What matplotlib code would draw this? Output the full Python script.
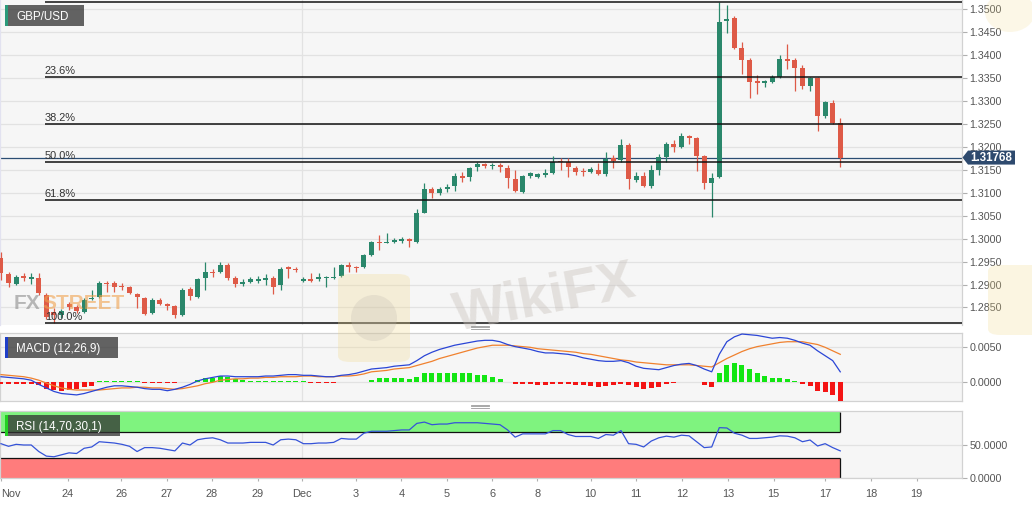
import matplotlib
matplotlib.use("Agg")
import matplotlib.pyplot as plt
import numpy as np
from matplotlib.patches import Rectangle, Polygon, FancyBboxPatch, Ellipse
from matplotlib.lines import Line2D

plt.rcParams['font.family'] = ['Liberation Sans', 'DejaVu Sans']

# ---------------- data ----------------
opens = [1.2958, 1.2923, 1.2901, 1.2919, 1.2912, 1.2914, 1.2877, 1.2840, 1.2834, 1.2858,
         1.2851, 1.2840, 1.2869, 1.2873, 1.2903, 1.2903, 1.2897, 1.2895, 1.2879, 1.2871,
         1.2838, 1.2866, 1.2858, 1.2853, 1.2834, 1.2890, 1.2873, 1.2914, 1.2928, 1.2928,
         1.2943, 1.2914, 1.2901, 1.2906, 1.2908, 1.2910, 1.2914, 1.2899, 1.2938, 1.2934,
         1.2908, 1.2912, 1.2912, 1.2914, 1.2914, 1.2919, 1.2943, 1.2938, 1.2938, 1.2964,
         1.2992, 1.2990, 1.2992, 1.2995, 1.2999, 1.2992, 1.3056, 1.3108, 1.3100, 1.3108,
         1.3115, 1.3137, 1.3135, 1.3156, 1.3163, 1.3158, 1.3161, 1.3154, 1.3130, 1.3102,
         1.3137, 1.3135, 1.3139, 1.3143, 1.3169, 1.3167, 1.3154, 1.3148, 1.3145, 1.3150,
         1.3141, 1.3176, 1.3172, 1.3204, 1.3128, 1.3137, 1.3115, 1.3150, 1.3178, 1.3206,
         1.3200, 1.3224, 1.3219, 1.3180, 1.3121, 1.3135, 1.3474, 1.3481, 1.3416, 1.3389,
         1.3344, 1.3339, 1.3341, 1.3352, 1.3392, 1.3389, 1.3372, 1.3333, 1.3350, 1.3267,
         1.3296, 1.3252]
highs = [1.2971, 1.2928, 1.2921, 1.2925, 1.2925, 1.2925, 1.2882, 1.2849, 1.2847, 1.2862,
         1.2855, 1.2871, 1.2888, 1.2908, 1.2908, 1.2908, 1.2903, 1.2897, 1.2882, 1.2873,
         1.2871, 1.2871, 1.2860, 1.2855, 1.2892, 1.2895, 1.2914, 1.2949, 1.2934, 1.2949,
         1.2947, 1.2919, 1.2912, 1.2917, 1.2919, 1.2923, 1.2919, 1.2938, 1.2941, 1.2938,
         1.2917, 1.2925, 1.2925, 1.2919, 1.2938, 1.2945, 1.2949, 1.2941, 1.2966, 1.2995,
         1.3008, 1.3012, 1.3001, 1.3003, 1.3001, 1.3065, 1.3121, 1.3113, 1.3113, 1.3119,
         1.3143, 1.3145, 1.3156, 1.3167, 1.3165, 1.3165, 1.3165, 1.3161, 1.3150, 1.3139,
         1.3145, 1.3143, 1.3152, 1.3180, 1.3176, 1.3176, 1.3158, 1.3154, 1.3156, 1.3165,
         1.3189, 1.3182, 1.3217, 1.3209, 1.3145, 1.3145, 1.3161, 1.3185, 1.3211, 1.3215,
         1.3230, 1.3226, 1.3222, 1.3182, 1.3143, 1.3517, 1.3509, 1.3485, 1.3429, 1.3394,
         1.3357, 1.3346, 1.3357, 1.3400, 1.3424, 1.3394, 1.3379, 1.3352, 1.3352, 1.3300,
         1.3302, 1.3263]
lows = [1.2910, 1.2895, 1.2899, 1.2908, 1.2901, 1.2877, 1.2825, 1.2817, 1.2827, 1.2845,
        1.2838, 1.2838, 1.2866, 1.2871, 1.2884, 1.2884, 1.2888, 1.2879, 1.2849, 1.2834,
        1.2836, 1.2855, 1.2845, 1.2827, 1.2831, 1.2866, 1.2871, 1.2888, 1.2917, 1.2925,
        1.2910, 1.2895, 1.2897, 1.2903, 1.2903, 1.2899, 1.2879, 1.2888, 1.2914, 1.2928,
        1.2906, 1.2906, 1.2908, 1.2895, 1.2912, 1.2917, 1.2928, 1.2928, 1.2936, 1.2962,
        1.2975, 1.2990, 1.2990, 1.2990, 1.2982, 1.2990, 1.3056, 1.3089, 1.3095, 1.3102,
        1.3104, 1.3124, 1.3126, 1.3148, 1.3154, 1.3152, 1.3145, 1.3110, 1.3102, 1.3100,
        1.3132, 1.3132, 1.3135, 1.3141, 1.3150, 1.3135, 1.3139, 1.3137, 1.3143, 1.3139,
        1.3137, 1.3154, 1.3167, 1.3108, 1.3124, 1.3113, 1.3110, 1.3139, 1.3167, 1.3189,
        1.3198, 1.3206, 1.3148, 1.3108, 1.3047, 1.3132, 1.3448, 1.3413, 1.3359, 1.3307,
        1.3315, 1.3331, 1.3339, 1.3350, 1.3370, 1.3322, 1.3326, 1.3322, 1.3235, 1.3263,
        1.3250, 1.3156]
closes = [1.2925, 1.2903, 1.2917, 1.2914, 1.2917, 1.2882, 1.2829, 1.2834, 1.2842, 1.2851,
          1.2842, 1.2866, 1.2871, 1.2903, 1.2901, 1.2895, 1.2895, 1.2882, 1.2873, 1.2836,
          1.2866, 1.2858, 1.2853, 1.2834, 1.2888, 1.2875, 1.2912, 1.2928, 1.2925, 1.2943,
          1.2914, 1.2901, 1.2906, 1.2912, 1.2912, 1.2914, 1.2895, 1.2934, 1.2934, 1.2932,
          1.2912, 1.2908, 1.2917, 1.2917, 1.2917, 1.2943, 1.2938, 1.2936, 1.2964, 1.2992,
          1.2990, 1.2992, 1.2997, 1.2999, 1.2995, 1.3056, 1.3108, 1.3100, 1.3108, 1.3113,
          1.3137, 1.3132, 1.3154, 1.3163, 1.3158, 1.3161, 1.3156, 1.3132, 1.3104, 1.3137,
          1.3143, 1.3141, 1.3143, 1.3167, 1.3167, 1.3156, 1.3145, 1.3145, 1.3152, 1.3141,
          1.3174, 1.3169, 1.3204, 1.3130, 1.3137, 1.3115, 1.3150, 1.3178, 1.3206, 1.3200,
          1.3224, 1.3219, 1.3180, 1.3121, 1.3132, 1.3472, 1.3479, 1.3416, 1.3389, 1.3341,
          1.3339, 1.3344, 1.3352, 1.3392, 1.3387, 1.3372, 1.3333, 1.3350, 1.3267, 1.3298,
          1.3252, 1.31768]

macd_line = [0.0008, 0.0007, 0.0006, 0.0005, 0.0003, -0.0003, -0.0008, -0.0013, -0.0016, -0.0017,
             -0.0018, -0.0016, -0.0013, -0.0010, -0.0007, -0.0005, -0.0005, -0.0006, -0.0007, -0.0009,
             -0.0010, -0.0010, -0.0012, -0.0010, -0.0007, -0.0003, 0.0002, 0.0005, 0.0007, 0.0009,
             0.0009, 0.0008, 0.0008, 0.0008, 0.0008, 0.0009, 0.0009, 0.0010, 0.0011, 0.0011,
             0.0010, 0.0010, 0.0009, 0.0008, 0.0008, 0.0010, 0.0011, 0.0013, 0.0016, 0.0019,
             0.0020, 0.0021, 0.0023, 0.0024, 0.0025, 0.0031, 0.0038, 0.0043, 0.0047, 0.0050,
             0.0053, 0.0055, 0.0057, 0.0059, 0.0060, 0.0060, 0.0058, 0.0054, 0.0051, 0.0049,
             0.0047, 0.0044, 0.0042, 0.0042, 0.0041, 0.0040, 0.0038, 0.0035, 0.0033, 0.0031,
             0.0030, 0.0030, 0.0031, 0.0028, 0.0023, 0.0020, 0.0019, 0.0018, 0.0021, 0.0024,
             0.0026, 0.0027, 0.0024, 0.0019, 0.0015, 0.0040, 0.0058, 0.0065, 0.0069, 0.0068,
             0.0067, 0.0065, 0.0063, 0.0064, 0.0063, 0.0060, 0.0056, 0.0053, 0.0045, 0.0038,
             0.0031, 0.0015]
signal_line = [0.0011, 0.0010, 0.0009, 0.0008, 0.0006, 0.0003, -0.0001, -0.0005, -0.0008, -0.0010,
               -0.0011, -0.0011, -0.0011, -0.0011, -0.0010, -0.0009, -0.0008, -0.0008, -0.0007, -0.0007,
               -0.0008, -0.0008, -0.0009, -0.0010, -0.0009, -0.0007, -0.0005, -0.0002, 0.0000, 0.0003,
               0.0004, 0.0005, 0.0005, 0.0006, 0.0006, 0.0007, 0.0007, 0.0008, 0.0008, 0.0008,
               0.0009, 0.0009, 0.0008, 0.0008, 0.0008, 0.0009, 0.0009, 0.0010, 0.0012, 0.0015,
               0.0016, 0.0017, 0.0019, 0.0020, 0.0021, 0.0024, 0.0027, 0.0030, 0.0034, 0.0037,
               0.0040, 0.0043, 0.0046, 0.0049, 0.0051, 0.0053, 0.0053, 0.0053, 0.0052, 0.0051,
               0.0050, 0.0048, 0.0047, 0.0046, 0.0045, 0.0044, 0.0043, 0.0041, 0.0040, 0.0038,
               0.0036, 0.0034, 0.0032, 0.0031, 0.0029, 0.0028, 0.0027, 0.0026, 0.0025, 0.0025,
               0.0025, 0.0025, 0.0024, 0.0023, 0.0022, 0.0028, 0.0034, 0.0039, 0.0044, 0.0048,
               0.0051, 0.0053, 0.0055, 0.0057, 0.0058, 0.0058, 0.0058, 0.0056, 0.0054, 0.0050,
               0.0045, 0.0040]
macd_hist = [-0.0002, -0.0002, -0.0002, -0.0002, -0.0002, -0.0004, -0.0009, -0.0011, -0.0012, -0.0011,
             -0.0009, -0.0006, -0.0005, 0.00015, 0.00015, 0.00015, 0.00015, 0.00015, 0.00015, -0.00006,
             -0.00006, -0.00006, -0.00006, -0.00006, 0.00006, 0.0001, 0.00033, 0.00057, 0.00057, 0.00095,
             0.0008, 0.00043, 0.0003, 0.00025, 0.00025, 0.00025, 0.00022, 0.00022, 0.00022, 0.00022,
             0.0002, -0.00004, -0.00004, -0.00004, -0.00004, 0.00005, 0.00005, 0.00005, 0.00005, 0.0004,
             0.0006, 0.0006, 0.0006, 0.0006, 0.0005, 0.0008, 0.0013, 0.0014, 0.0014, 0.0014,
             0.0014, 0.0013, 0.0013, 0.0011, 0.0010, 0.0008, 0.0005, 0.0001, -0.0003, -0.0003,
             -0.0003, -0.0004, -0.0004, -0.0003, -0.0003, -0.0003, -0.0004, -0.0004, -0.0005, -0.0006,
             -0.0005, -0.0004, -0.0002, -0.0004, -0.0006, -0.0009, -0.0008, -0.0006, -0.0002, -0.0001,
             0.0001, 0.0001, 0.00005, -0.0004, -0.0007, 0.0013, 0.0025, 0.0027, 0.0025, 0.0019,
             0.0014, 0.0009, 0.0006, 0.0006, 0.0005, 0.0002, -0.0002, -0.0005, -0.0012, -0.0014,
             -0.0018, -0.0026]
rsi_values = [52, 48, 51, 50, 50, 40, 33, 32, 35, 38,
              37, 45, 47, 55, 54, 53, 51, 48, 40, 46,
              46, 45, 43, 41, 53, 50, 58, 60, 61, 58,
              53, 53, 53, 54, 54, 54, 50, 58, 59, 58,
              52, 52, 53, 53, 54, 60, 59, 59, 68, 71,
              71, 71, 72, 73, 73, 83, 85, 81, 82, 82,
              84, 84, 84, 84, 83, 82, 81, 73, 62, 67,
              67, 67, 67, 72, 72, 66, 63, 63, 63, 60,
              66, 65, 72, 52, 51, 47, 56, 61, 63.5, 62,
              65, 64, 55, 46, 47, 76.5, 76, 68, 65, 60,
              60, 61, 62, 64, 63.5, 61, 55, 57.6, 48.5, 52,
              46, 41]

date_labels = ['Nov', '24', '26', '27', '28', '29', 'Dec', '3', '4', '5',
               '6', '8', '10', '11', '12', '13', '15', '17', '18', '19']
price_ticks = [1.2850, 1.2900, 1.2950, 1.3000, 1.3050, 1.3100, 1.3150,
               1.3200, 1.3250, 1.3300, 1.3350, 1.3400, 1.3450, 1.3500]
macd_ticks = [0.0000, 0.0050]
rsi_ticks = [0.0, 50.0]
fib_low = 1.2817
fib_high = 1.3517
fib_ratios = [0.0, 0.236, 0.382, 0.5, 0.618, 1.0]
fib_labels = ['', '23.6%', '38.2%', '50.0%', '61.8%', '100.0%']
rsi_upper = 70
rsi_lower = 30
last_price = 1.31768
symbol = 'GBP/USD'
macd_title = 'MACD (12,26,9)'
rsi_title = 'RSI (14,70,30,1)'

# ---------------- layout ----------------
W, H = 1032, 505
date_tick_pos = [0, 8.8, 15.9, 21.9, 27.9, 33.95, 39.85, 46.95, 52.95, 58.95,
                 64.95, 70.95, 78.0, 84.0, 90.1, 96.15, 102.2, 109.0, 115.05, 121.1]
dec_pos = 39.85
fib_start = 5.8
XL = (-0.13, 127.1)

GREEN = '#2a876b'
RED = '#de5a47'
BG = '#f6f6f6'
GRID = '#e2e2e2'
LBL = '#555555'


def fx(px):
    return px / W


def fy(py):
    return 1 - py / H


fig = plt.figure(figsize=(W / 100, H / 100), dpi=100)
fig.patch.set_facecolor('white')

ax = fig.add_axes([0, fy(325), 962 / W, 325 / H])
axm = fig.add_axes([0, fy(401), 962 / W, (401 - 332.7) / H])
axr = fig.add_axes([0, fy(478.3), 962 / W, (478.3 - 410.7) / H])

for a in (ax, axm, axr):
    a.set_facecolor(BG)
    a.set_xlim(*XL)
    a.yaxis.tick_right()
    a.tick_params(axis='y', direction='out', length=3.5, width=0.8, color='#b0b0b0',
                  labelsize=7.7, labelcolor=LBL, pad=2)
    a.grid(axis='y', color=GRID, lw=0.9, zorder=0)
    a.set_axisbelow(True)
    a.axvline(dec_pos, color=GRID, lw=0.9, zorder=0)
    for s in a.spines.values():
        s.set_color('#d2d2d2')
        s.set_linewidth(0.9)

for a in (ax, axm):
    a.tick_params(axis='x', bottom=False, labelbottom=False)

# ---------------- main candle panel ----------------
o = np.array(opens)
h = np.array(highs)
l = np.array(lows)
c = np.array(closes)
x = np.arange(len(o))
cols = np.where(c >= o, GREEN, RED)

ax.set_ylim(1.28118, 1.35203)
ax.set_yticks(price_ticks)
ax.set_yticklabels([f'{v:.4f}' for v in price_ticks])
ax.spines['top'].set_visible(False)
ax.spines['bottom'].set_visible(False)
ax.spines['left'].set_color('#e2e2f0')

ax.vlines(x, l, h, colors=cols, lw=0.9, zorder=3)
body_lo = np.minimum(o, c)
body_h = np.maximum(np.abs(c - o), 0.00022)
ax.bar(x, body_h, bottom=body_lo, width=0.66, color=cols, lw=0, zorder=4)

for r, lab in zip(fib_ratios, fib_labels):
    lvl = fib_high - r * (fib_high - fib_low)
    ax.hlines(lvl, fib_start, XL[1], color='#111111', lw=1.1, zorder=5, clip_on=False)
    if lab:
        ax.annotate(lab, (fib_start, lvl), xytext=(0, 0.8), textcoords='offset points',
                    ha='left', va='bottom', fontsize=7.9, color='#333333', zorder=6)

ax.axhline(last_price, color='#2b4d73', lw=0.9, zorder=2)

# price tag
disp = ax.transData.transform((0, last_price))
ty = fig.transFigure.inverted().transform(disp)[1]
hh = 7.0 / H
tag = Polygon([(fx(962.5), ty), (fx(968), ty + hh), (fx(1015), ty + hh),
               (fx(1015), ty - hh), (fx(968), ty - hh)], closed=True,
              transform=fig.transFigure, fc='#2e4a6e', ec='none', zorder=5)
fig.add_artist(tag)
fig.text(fx(991.5), ty, f'{last_price:.5f}', ha='center', va='center', color='white',
         fontsize=8.3, fontweight='bold', zorder=6)

# ---------------- MACD panel ----------------
axm.set_ylim(-0.00267, 0.00709)
axm.set_yticks(macd_ticks)
axm.set_yticklabels([f'{v:.4f}' for v in macd_ticks])
hist = np.array(macd_hist)
hcols = np.where(hist >= 0, '#13e613', '#f41414')
axm.bar(x, hist, width=0.66, color=hcols, lw=0, zorder=3)
axm.plot(x, signal_line, color='#f0812e', lw=0.9, zorder=4)
axm.plot(x, macd_line, color='#2a45d6', lw=0.9, zorder=5)

# ---------------- RSI panel ----------------
axr.set_ylim(-0.9, 102.4)
axr.set_yticks(rsi_ticks)
axr.set_yticklabels([f'{v:.4f}' for v in rsi_ticks])
xr_end = len(x) - 1
axr.add_patch(Rectangle((XL[0], rsi_upper), xr_end - XL[0], 100 - rsi_upper,
                        fc='#7ff37f', ec='none', zorder=1))
axr.add_patch(Rectangle((XL[0], 0), xr_end - XL[0], rsi_lower,
                        fc='#ff7c7c', ec='none', zorder=1))
axr.hlines([rsi_upper, rsi_lower], XL[0], xr_end, color='#111111', lw=0.9, zorder=2)
axr.vlines(xr_end, rsi_upper, 100, color='#111111', lw=0.9, zorder=2)
axr.vlines(xr_end, 0, rsi_lower, color='#111111', lw=0.9, zorder=2)
axr.plot(x, rsi_values, color='#3553d8', lw=0.9, zorder=4)
axr.set_xticks(date_tick_pos)
axr.set_xticklabels(date_labels)
axr.tick_params(axis='x', direction='out', length=2.5, width=0.8, color='#b0b0b0',
                labelsize=7.9, labelcolor=LBL, pad=5)
axr.get_xticklabels()[0].set_ha('left')

# ---------------- labels boxes ----------------
def label_box(x0, y0, x1, y1, bar_color, text):
    fig.add_artist(Rectangle((fx(x0), fy(y1)), fx(x1 - x0), (y1 - y0) / H,
                             transform=fig.transFigure, fc='#333333', alpha=0.76,
                             ec='none', zorder=7))
    fig.add_artist(Rectangle((fx(x0), fy(y1)), fx(2.5), (y1 - y0) / H,
                             transform=fig.transFigure, fc=bar_color, ec='none', zorder=8))
    fig.text(fx(x0 + 11.5), fy((y0 + y1) / 2), text, ha='left', va='center_baseline',
             color='white', fontsize=8.4, zorder=9)


label_box(5, 5, 84, 25.7, '#2a9a7a', symbol)
label_box(5, 336.7, 118, 358.3, '#1f3fc8', macd_title)
label_box(5, 415, 120, 436, '#22d022', rsi_title)

# panel separators
for yy in (325.8, 327.4, 329.0, 404.6, 406.2, 407.8):
    fig.add_artist(Line2D([fx(471), fx(489)], [fy(yy), fy(yy)], transform=fig.transFigure,
                          color='#9a9a9a', lw=0.6, zorder=7))

# ---------------- watermarks ----------------
fig.add_artist(FancyBboxPatch((fx(338), fy(362)), fx(72), 88 / H,
                              boxstyle='round,pad=0,rounding_size=0.012',
                              transform=fig.transFigure, fc='#f2d98a', alpha=0.28,
                              ec='none', zorder=6))
fig.add_artist(Ellipse((fx(374), fy(318)), fx(46), 46 / H, transform=fig.transFigure,
                       fc='#bdb6ac', alpha=0.25, ec='none', zorder=6))
fig.add_artist(FancyBboxPatch((fx(988), fy(335)), fx(60), 70 / H,
                              boxstyle='round,pad=0,rounding_size=0.012',
                              transform=fig.transFigure, fc='#f2d98a', alpha=0.25,
                              ec='none', zorder=6))
fig.add_artist(Ellipse((fx(1010), fy(12)), fx(50), 40 / H, transform=fig.transFigure,
                       fc='#f2d98a', alpha=0.2, ec='none', zorder=6))
fig.text(fx(545), fy(300), 'WikiFX', rotation=11, fontsize=40, fontweight='bold',
         color='#c9c2bc', alpha=0.42, ha='center', va='center', zorder=6)
fig.text(fx(14), fy(309), 'FX', fontsize=15, fontweight='bold', color='#8c8c8c',
         alpha=0.6, ha='left', va='baseline', zorder=6)
fig.text(fx(42), fy(309), 'STREET', fontsize=15, fontweight='bold', color='#f0a24e',
         alpha=0.6, ha='left', va='baseline', zorder=6)

fig.savefig('out.png', dpi=100, facecolor='white')
